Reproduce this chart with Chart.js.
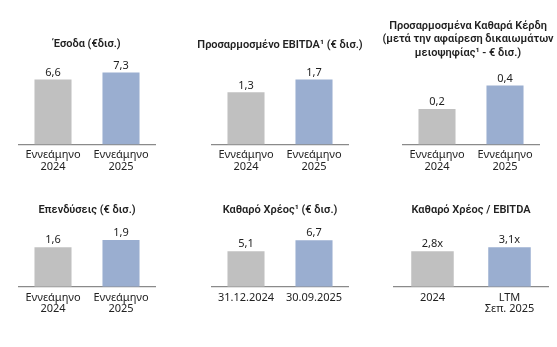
<!DOCTYPE html>
<html>
<head>
<meta charset="utf-8">
<script src="https://cdn.jsdelivr.net/npm/chart.js@4.4.1/dist/chart.umd.min.js"></script>
<style>
  html, body { margin: 0; padding: 0; background: #ffffff; }
  body { width: 557px; height: 347px; position: relative; overflow: hidden; }
  canvas { position: absolute; }
</style>
</head>
<body>
<canvas id="c1"></canvas>
<canvas id="c2"></canvas>
<canvas id="c3"></canvas>
<canvas id="c4"></canvas>
<canvas id="c5"></canvas>
<canvas id="c6"></canvas>
<script>
// ---------- DATA ----------
const periodLabels = [["Εννεάμηνο", "2024"], ["Εννεάμηνο", "2025"]];
const debtDateLabels = ["31.12.2024", "30.09.2025"];
const leverageLabels = ["2024", ["LTM", "Σεπ. 2025"]];

const revenue = [6.6, 7.3];
const adjustedEbitda = [1.33, 1.66];
const adjustedNetProfit = [0.24, 0.40];
const capex = [1.6, 1.9];
const netDebt = [5.1, 6.7];
const netDebtToEbitda = [2.8, 3.1];

const titleRevenue = ["Έσοδα (€δισ.)"];
const titleEbitda = ["Προσαρμοσμένο EBITDA¹ (€ δισ.)"];
const titleNetProfit = ["Προσαρμοσμένα Καθαρά Κέρδη", "(μετά την αφαίρεση δικαιωμάτων", "μειοψηφίας¹ - € δισ.)"];
const titleCapex = ["Επενδύσεις (€ δισ.)"];
const titleNetDebt = ["Καθαρό Χρέος¹ (€ δισ.)"];
const titleLeverage = ["Καθαρό Χρέος / EBITDA"];

// ---------- STYLE ----------
const GREY = "#c0c0c0";
const BLUE = "#9aaed0";
const TEXT = "#222222";
const AXIS = "#8a8a8a";
const FONT = "'Noto Sans', 'DejaVu Sans', sans-serif";
const TITLE_FONT = "600 11px Roboto, 'Noto Sans', sans-serif";

Chart.defaults.font.family = FONT;
Chart.defaults.color = TEXT;

const valueLabels = {
  id: "valueLabels",
  afterDatasetsDraw(chart, args, opts) {
    const ctx = chart.ctx;
    const meta = chart.getDatasetMeta(0);
    const data = chart.data.datasets[0].data;
    ctx.save();
    ctx.font = "11px " + FONT;
    ctx.fillStyle = TEXT;
    ctx.textAlign = "center";
    ctx.textBaseline = "middle";
    meta.data.forEach((bar, i) => {
      const txt = data[i].toFixed(1).replace(".", ",") + (opts.suffix || "");
      ctx.fillText(txt, bar.x, bar.y - 7);
    });
    ctx.restore();
  }
};

const panelTitle = {
  id: "panelTitle",
  afterDraw(chart, args, opts) {
    const ctx = chart.ctx;
    const ca = chart.chartArea;
    const cx = (ca.left + ca.right) / 2 + (opts.dx || 0);
    ctx.save();
    ctx.font = TITLE_FONT;
    ctx.fillStyle = TEXT;
    ctx.textAlign = "center";
    ctx.textBaseline = "middle";
    opts.lines.forEach((line, i) => ctx.fillText(line, cx, opts.y0 + i * opts.gap));
    ctx.restore();
  }
};

function makeChart(id, cfg) {
  const el = document.getElementById(id);
  el.width = cfg.w; el.height = cfg.h;
  el.style.left = cfg.x + "px"; el.style.top = cfg.y + "px";
  el.style.width = cfg.w + "px"; el.style.height = cfg.h + "px";
  const base = cfg.baseline - cfg.y;      // wanted axis line position in canvas
  const chart = new Chart(el, {
    type: "bar",
    data: {
      labels: cfg.labels,
      datasets: [{
        data: cfg.values,
        backgroundColor: [GREY, BLUE],
        borderWidth: 0,
        categoryPercentage: 1,
        barPercentage: cfg.barPct
      }]
    },
    options: {
      responsive: false,
      animation: false,
      devicePixelRatio: 1,
      layout: { padding: { left: cfg.padL, right: cfg.padR, top: cfg.top - cfg.y, bottom: cfg.h - base - 31 } },
      plugins: {
        legend: { display: false },
        tooltip: { enabled: false },
        title: { display: false },
        valueLabels: { suffix: cfg.suffix || "" },
        panelTitle: { lines: cfg.title, y0: cfg.titleY - cfg.y, gap: 13.5, dx: cfg.titleDx || 0 }
      },
      scales: {
        x: {
          grid: { display: false, drawTicks: false },
          border: { display: true, color: AXIS, width: 1.2 },
          ticks: { color: TEXT, padding: 5, font: { family: FONT, size: 11, lineHeight: 1.05 }, maxRotation: 0, autoSkip: false }
        },
        y: {
          display: false,
          min: 0,
          max: (base - (cfg.top - cfg.y)) / cfg.ppu
        }
      }
    },
    plugins: [valueLabels, panelTitle]
  });
  // correct the bottom padding so the axis sits exactly at the wanted line
  const diff = base - chart.chartArea.bottom;
  if (Math.abs(diff) > 0.01) {
    chart.options.layout.padding.bottom -= diff;
    chart.update();
  }
  return chart;
}

// Row 1
makeChart("c1", { x: 0, y: 0, w: 186, h: 175, padL: 19, padR: 31, top: 60, baseline: 144.5, ppu: 9.86, barPct: 0.545,
  labels: periodLabels, values: revenue, title: titleRevenue, titleY: 44 });
makeChart("c2", { x: 186, y: 0, w: 186, h: 175, padL: 26, padR: 24, top: 60, baseline: 144.5, ppu: 39.2, barPct: 0.545,
  labels: periodLabels, values: adjustedEbitda, title: titleEbitda, titleY: 45 });
makeChart("c3", { x: 372, y: 0, w: 185, h: 175, padL: 31, padR: 18, top: 60, baseline: 144.5, ppu: 147.5, barPct: 0.545,
  labels: periodLabels, values: adjustedNetProfit, title: titleNetProfit, titleY: 26, titleDx: -3 });
// Row 2
makeChart("c4", { x: 0, y: 175, w: 186, h: 172, padL: 19, padR: 31, top: 220, baseline: 286.7, ppu: 24.6, barPct: 0.545,
  labels: periodLabels, values: capex, title: titleCapex, titleY: 210 });
makeChart("c5", { x: 186, y: 175, w: 186, h: 172, padL: 26, padR: 24, top: 220, baseline: 286.7, ppu: 6.95, barPct: 0.545,
  labels: debtDateLabels, values: netDebt, title: titleNetDebt, titleY: 210 });
makeChart("c6", { x: 372, y: 175, w: 185, h: 172, padL: 22, padR: 9, top: 220, baseline: 286.7, ppu: 12.7, barPct: 0.552,
  labels: leverageLabels, values: netDebtToEbitda, title: titleLeverage, titleY: 210, suffix: "x" });
</script>
</body>
</html>
